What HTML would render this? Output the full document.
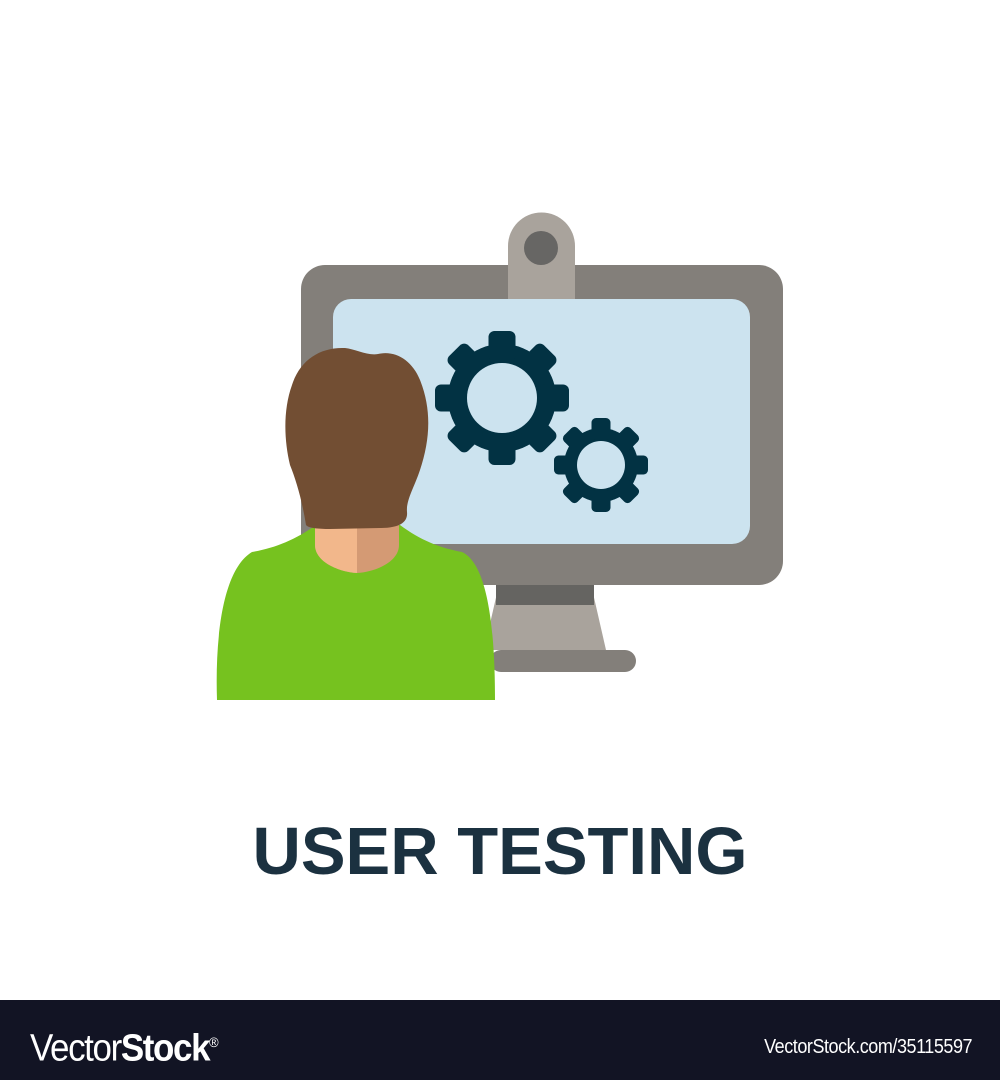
<!DOCTYPE html>
<html><head><meta charset="utf-8"><style>
html,body{margin:0;padding:0;background:#fff;width:1000px;height:1080px;overflow:hidden;position:relative}
.t{position:absolute;left:0;width:1000px;top:814px;text-align:center;font:bold 67px "Liberation Sans",sans-serif;color:#1b3140;line-height:76px}
.bar{position:absolute;left:0;top:1000px;width:1000px;height:80px;background:#121424;color:#fff;font-family:"Liberation Sans",sans-serif}
</style></head><body>
<svg width="1000" height="1000" style="position:absolute;left:0;top:0">
<path d="M508,300 V246 A33.5,33.5 0 0 1 575,246 V300 Z" fill="#a9a39c"/>
<rect x="490" y="650" width="146" height="22" rx="11" fill="#837f7a"/>
<polygon points="500,580 590,580 606,650 484,650" fill="#a9a39c"/>
<rect x="496" y="583" width="98" height="22" fill="#656461"/>
<rect x="301" y="265" width="482" height="320" rx="24" fill="#837f7a"/>
<rect x="508" y="265" width="67" height="34" fill="#a9a39c"/>
<circle cx="541" cy="248" r="17" fill="#676664"/>
<rect x="333" y="299" width="417" height="245" rx="18" fill="#cce3ef"/>
<g fill="#023243" transform="translate(502,398)">
<circle r="54"/>
<g id="bt"><rect x="-13.5" y="-67" width="27" height="30" rx="6"/></g>
<use href="#bt" transform="rotate(45)"/><use href="#bt" transform="rotate(90)"/><use href="#bt" transform="rotate(135)"/>
<use href="#bt" transform="rotate(180)"/><use href="#bt" transform="rotate(225)"/><use href="#bt" transform="rotate(270)"/><use href="#bt" transform="rotate(315)"/>
<circle r="35" fill="#cce3ef"/>
</g>
<g fill="#023243" transform="translate(601,465)">
<circle r="37"/>
<g id="st"><rect x="-9.5" y="-47" width="19" height="22" rx="4.5"/></g>
<use href="#st" transform="rotate(45)"/><use href="#st" transform="rotate(90)"/><use href="#st" transform="rotate(135)"/>
<use href="#st" transform="rotate(180)"/><use href="#st" transform="rotate(225)"/><use href="#st" transform="rotate(270)"/><use href="#st" transform="rotate(315)"/>
<circle r="24" fill="#cce3ef"/>
</g>
<path d="M217,700 C215,640 222,570 252,552 C275,548 295,540 316,525 L400,525 C420,540 440,548 462,552 C490,565 495,640 495,700 Z" fill="#76c21f"/>
<path d="M315,515 L399,515 L399,545 C399,562 375,572 357,573 C339,572 315,562 315,545 Z" fill="#d49a74"/>
<path d="M315,515 L357,515 L357,573 C339,572 315,562 315,545 Z" fill="#f2b78b"/>
<path d="M306,525 C302,500 296,480 290,465 C284,440 283,410 292,385 C300,360 320,347 345,348 C355,349 368,356 378,354 C395,350 412,360 420,380 C432,410 430,440 420,470 C414,488 406,500 407,512 C408,522 400,528 380,528 L330,529 C318,529 308,528 306,525 Z" fill="#724e33"/>
</svg>
<div class="t">USER TESTING</div>
<div class="bar">
<div style="position:absolute;left:30px;top:20px;font-size:38px;letter-spacing:-1.5px;line-height:44px;transform:scaleX(0.92);transform-origin:left"><span style="font-weight:300">Vector</span><b>Stock</b><sup style="font-size:14px">®</sup></div>
<div style="position:absolute;right:28px;top:35px;font-size:20px;line-height:24px;letter-spacing:-0.5px;transform:scaleX(0.9);transform-origin:right">VectorStock.com/35115597</div>
</div>
</body></html>
